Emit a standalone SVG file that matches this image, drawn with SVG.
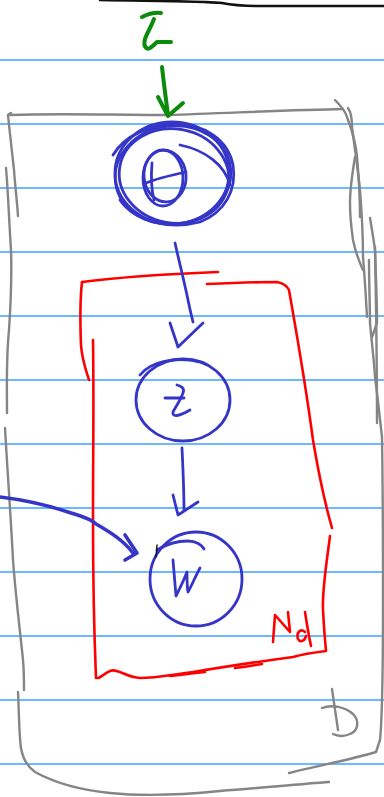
<svg xmlns="http://www.w3.org/2000/svg" width="384" height="797" viewBox="0 0 384 797">
  <style>
    .rule { stroke: #3fa0ff; stroke-width: 1.6; }
    .ink { fill: none; stroke-linecap: round; stroke-linejoin: round; }
    .blue { stroke: #3535c8; stroke-width: 2.8; }
    .blue-thick { stroke: #3535c8; stroke-width: 3.6; }
    .red { stroke: #ff0000; stroke-width: 2.6; }
    .gray { stroke: #858585; stroke-width: 2.4; }
    .green { stroke: #0b8a0b; stroke-width: 4; }
  </style>

  <rect width="384" height="797" fill="#ffffff"/>

  <!-- ruled notebook lines -->
  <g id="ruling">
    <line class="rule" x1="0" y1="60" x2="384" y2="60"/>
    <line class="rule" x1="0" y1="124" x2="384" y2="124"/>
    <line class="rule" x1="0" y1="188" x2="384" y2="188"/>
    <line class="rule" x1="0" y1="252" x2="384" y2="252"/>
    <line class="rule" x1="0" y1="316" x2="384" y2="316"/>
    <line class="rule" x1="0" y1="380" x2="384" y2="380"/>
    <line class="rule" x1="0" y1="444" x2="384" y2="444"/>
    <line class="rule" x1="0" y1="508" x2="384" y2="508"/>
    <line class="rule" x1="0" y1="572" x2="384" y2="572"/>
    <line class="rule" x1="0" y1="636" x2="384" y2="636"/>
    <line class="rule" x1="0" y1="700" x2="384" y2="700"/>
    <line class="rule" x1="0" y1="764" x2="384" y2="764"/>
  </g>

  <!-- separator stroke at the top of the page -->
  <path class="ink" d="M100,0 C150,1 200,1 222,3 C232,5 240,6 260,6 L384,6" stroke="#111" stroke-width="2.6"/>

  <!-- outer plate D -->
  <g id="plate-D" class="ink gray">
    <path d="M10,115 C60,113 110,115 167,115 C230,113 290,110 343,109"/>
    <path d="M8,115 L11,113"/>
    <path d="M8,115 C10,135 13,160 14,170 C15,185 17,200 18,216"/>
    <path d="M6,168 C8,190 9,220 11,250 C12,280 11,300 9,330 C6,360 7,390 7,413"/>
    <path d="M5,428 C8,480 11,520 13,560 C16,600 20,630 23,660 C24,670 24,680 24,690"/>
    <path d="M18,692 C19,710 19,735 21,748 C23,760 28,767 35,772 C55,783 80,790 110,793 C140,796 180,795 220,791 C260,788 300,784 329,782"/>
    <path d="M335,100 C340,105 345,110 347,117 C352,130 356,145 357,157 C359,180 360,200 360,217"/>
    <path d="M348,108 C351,112 352,120 352,127 C355,150 358,170 360,190 C362,215 363,240 363,257 C365,280 366,300 367,317"/>
    <path d="M355,157 C352,175 350,190 350,203 C350,220 352,232 353,240 C356,255 360,263 363,270"/>
    <path d="M370,218 C372,230 374,242 375,250 C376,280 377,300 377,323 L372,337"/>
    <path d="M369,260 C369,285 370,305 370,323 C372,345 374,360 375,377 C378,400 380,420 382,437"/>
    <path d="M375,247 C376,300 377,360 377,423"/>
    <path d="M382,437 C383,500 383,560 383,600 C383,660 382,720 380,740 L376,752 C350,760 315,766 289,773"/>
  </g>
  <g id="label-D" class="ink gray" stroke-width="2.6">
    <path d="M332,689 C334,703 336,717 338,730"/>
    <path d="M322,708 C332,704 345,707 353,714 C360,721 358,731 350,734 C343,737 337,736 333,734"/>
  </g>

  <!-- inner plate Nd -->
  <g id="plate-Nd" class="ink red">
    <path d="M82,282 C120,277 170,274 218,272"/>
    <path d="M82,282 C80,300 80,320 81,345 C82,360 86,370 89,380"/>
    <path d="M207,284 C230,283 255,282 277,282 C283,283 287,286 289,290 C296,330 305,380 313,440 C318,470 324,500 332,528"/>
    <path d="M330,536 C327,560 322,590 323,610 C324,630 325,640 326,651 C310,653 300,655 293,657 C270,660 230,666 193,672 C170,675 155,678 140,678 C125,677 118,668 110,671 C105,673 100,678 98,678"/>
    <path d="M93,340 C94,400 93,450 93,520 C93,580 94,630 96,678"/>
    <path d="M262,664 C255,665 245,667 235,668 M205,672 C195,673 180,675 170,676"/>
  </g>
  <g id="label-Nd" class="ink red">
    <path d="M273,642 L275,615 L290,632 L288,612"/>
    <path d="M305,632 C300,628 296,633 298,639 C300,643 305,641 306,636"/>
    <path d="M305,612 C307,625 309,637 311,646"/>
  </g>

  <!-- hyperparameter alpha -->
  <g id="alpha" class="ink green" stroke-width="3.6">
    <path d="M142,17 C148,14 155,12 161,13"/>
    <path d="M154,19 C151,27 147,33 145,39 C143,46 146,50 150,48 C153,46 155,44 157,42 C162,42 167,42 171,42"/>
  </g>

  <!-- node theta -->
  <g id="node-theta" class="ink blue">
    <ellipse cx="173" cy="175" rx="58" ry="49" transform="rotate(-8 173 175)"/>
    <ellipse cx="174" cy="176" rx="55" ry="47" transform="rotate(10 174 176)"/>
    <ellipse cx="172" cy="173" rx="57" ry="51"/>
    <path d="M113,155 C125,135 150,125 175,124 C205,124 228,140 233,165 C237,190 225,212 200,222 C170,230 135,222 120,200"/>
    <path d="M180,145 C205,150 225,165 230,185"/>
    <ellipse cx="163" cy="178" rx="20" ry="28"/>
    <ellipse cx="165" cy="176" rx="21" ry="26" transform="rotate(-6 165 176)"/>
    <path d="M152,163 C151,175 151,188 154,200"/>
    <path d="M146,183 C158,178 172,175 186,172"/>
  </g>

  <!-- node z -->
  <g id="node-z" class="ink blue">
    <ellipse cx="183" cy="400" rx="47" ry="41"/>
    <path d="M140,375 C150,362 175,356 200,362"/>
    <path d="M165,398 L184,398"/>
    <path d="M177,385 C181,386 185,388 183,393 C180,401 175,408 173,412 C172,417 178,417 190,410"/>
  </g>

  <!-- node w -->
  <g id="node-w" class="ink blue">
    <ellipse cx="196" cy="579" rx="46" ry="47"/>
    <path d="M157,550 C165,545 175,541 188,541 C196,541 202,545 204,549"/>
    <path d="M173,560 C174,572 175,585 176,596 C180,588 184,580 187,572 C187,580 187,587 188,592 C192,585 196,575 200,568"/>
    <path d="M157,545 L156,557" stroke="#111" stroke-width="1.4"/>
  </g>

  <!-- connectors -->
  <g id="connectors" class="ink">
    <path class="green" d="M162,67 C164,85 166,100 168,115"/>
    <path class="green" d="M158,97 L168,116 L183,103"/>
    <path class="blue" d="M175,243 C180,265 185,285 188,300 C190,310 192,318 193,322"/>
    <path class="blue" d="M170,323 L178,347 L203,323"/>
    <path class="blue" d="M182,448 C183,470 184,490 184,510"/>
    <path class="blue" d="M173,495 L178,515 L198,502"/>
    <path class="blue-thick" d="M0,497 C25,500 50,506 68,512 C80,516 90,518 96,524 C110,532 123,540 133,553"/>
    <path class="blue-thick" d="M125,535 L137,553 L125,560"/>
  </g>
</svg>
